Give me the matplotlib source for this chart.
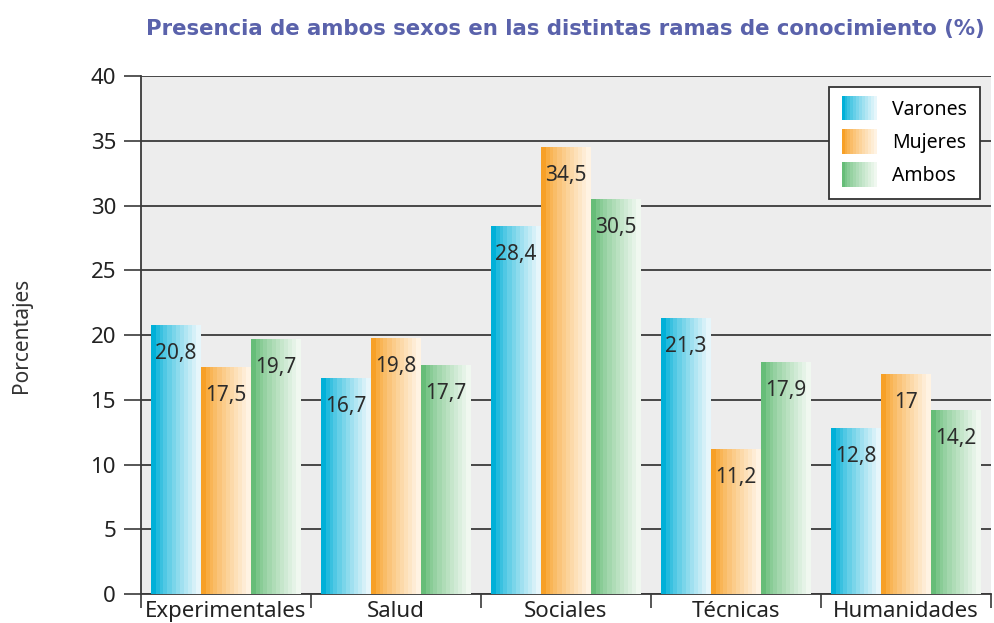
import numpy as np
import matplotlib
matplotlib.use("Agg")
import matplotlib.pyplot as plt
from matplotlib.colors import LinearSegmentedColormap, to_rgb
from matplotlib.patches import Rectangle
from matplotlib.legend_handler import HandlerBase

categories = ["Experimentales", "Salud", "Sociales", "Técnicas", "Humanidades"]
series = ["Varones", "Mujeres", "Ambos"]
varones = [20.8, 16.7, 28.4, 21.3, 12.8]
mujeres = [17.5, 19.8, 34.5, 11.2, 17.0]
ambos = [19.7, 17.7, 30.5, 17.9, 14.2]
labels_v = ["20,8", "16,7", "28,4", "21,3", "12,8"]
labels_m = ["17,5", "19,8", "34,5", "11,2", "17"]
labels_a = ["19,7", "17,7", "30,5", "17,9", "14,2"]

# gradient colours: saturated left -> pale right
grad = {
    "Varones": ("#00b0d8", "#e6f6fb"),
    "Mujeres": ("#f7a026", "#fff3e3"),
    "Ambos": ("#66bd78", "#f0f8f0"),
}
N_STEPS = 12

plt.rcParams['font.family'] = ['Noto Sans', 'DejaVu Sans']


def stepped(c0, c1, n=N_STEPS):
    a, b = np.array(to_rgb(c0)), np.array(to_rgb(c1))
    t = np.linspace(0, 1, n) ** 0.8
    return [tuple(a + (b - a) * ti) for ti in t]


class GradientHandler(HandlerBase):
    def __init__(self, colors):
        super().__init__()
        self.colors = colors

    def create_artists(self, legend, orig_handle, xdescent, ydescent,
                       width, height, fontsize, trans):
        n = len(self.colors)
        w = width / n
        arts = []
        for i, c in enumerate(self.colors):
            r = Rectangle((-xdescent + i * w, -ydescent - 0.2 * height), w * 1.05, height * 1.4,
                          facecolor=c, edgecolor="none", transform=trans)
            arts.append(r)
        return arts


fig = plt.figure(figsize=(9.95, 6.23), dpi=100)
ax = fig.add_axes([0.1417, 0.0465, 0.854, 0.8315])
ax.set_facecolor("#ededed")

x = np.arange(len(categories))
bw = 0.294
handles = []
for k, (name, vals, labs) in enumerate(zip(series, [varones, mujeres, ambos],
                                           [labels_v, labels_m, labels_a])):
    cols = stepped(*grad[name])
    cmap = LinearSegmentedColormap.from_list(name, cols, N=N_STEPS)
    bars = ax.bar(x + (k - 1) * bw, vals, bw, color="none", edgecolor="none",
                  zorder=3, label=name)
    for b, v, lab in zip(bars, vals, labs):
        x0 = b.get_x()
        im = ax.imshow(np.linspace(0, 1, 64).reshape(1, -1), cmap=cmap,
                       aspect="auto", extent=(x0, x0 + bw, 0, v),
                       zorder=3, interpolation="nearest")
        im.set_clip_path(b)
        ax.text(x0 + bw / 2, v - 2.2, lab, ha="center", va="center",
                fontsize=15, color="#2b2b2b", zorder=4)
    handles.append(bars)

ax.set_xlim(-0.5, 4.5)
ax.set_ylim(0, 40)
ax.set_yticks(np.arange(0, 41, 5))
ax.set_yticklabels([str(v) for v in range(0, 41, 5)], fontsize=16, color="#222222")
ax.yaxis.grid(True, color="#3a3a3a", linewidth=1.3, zorder=1)
ax.set_axisbelow(True)
ax.tick_params(axis="y", length=12, width=1.2, color="#3a3a3a", pad=6)

ax.set_xticks(x)
ax.set_xticklabels(categories, fontsize=16, color="#222222")
ax.set_xticks(np.arange(-0.5, 5.0, 1.0), minor=True)
ax.tick_params(axis="x", which="major", length=0, pad=5)
ax.tick_params(axis="x", which="minor", length=10, width=1.2, color="#3a3a3a")

for s in ["top", "right"]:
    ax.spines[s].set_visible(False)
ax.spines["left"].set_color("#3a3a3a")
ax.spines["left"].set_linewidth(1.3)
ax.spines["bottom"].set_color("#3a3a3a")
ax.spines["bottom"].set_linewidth(1.3)

ax.set_ylabel("Porcentajes", fontsize=15, color="#333333")
ax.yaxis.set_label_coords(-0.128, 0.5)

leg = ax.legend(handles, series, loc="upper right", bbox_to_anchor=(0.987, 0.979),
                fontsize=14, frameon=True, fancybox=False, framealpha=1,
                edgecolor="#333333", handlelength=1.8, handleheight=1.0,
                labelspacing=0.66, borderpad=0.65, handletextpad=0.8,
                borderaxespad=0,
                handler_map={h: GradientHandler(stepped(*grad[n]))
                             for h, n in zip(handles, series)})
leg.get_frame().set_linewidth(1.3)
leg.set_zorder(5)

fig.text(0.568, 0.953, "Presencia de ambos sexos en las distintas ramas de conocimiento (%)",
         ha="center", va="center", fontsize=15.3, fontweight="bold", color="#5a62ab",
         family="DejaVu Sans")

fig.savefig("out.png", dpi=100)
